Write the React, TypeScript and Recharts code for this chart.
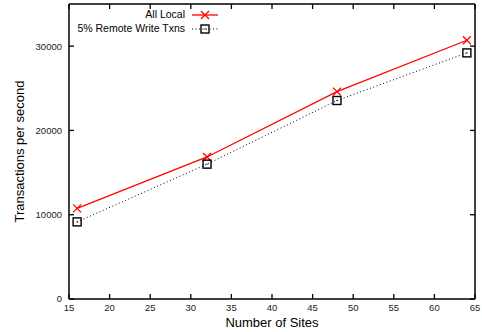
import React from 'react';
import { LineChart, Line, XAxis, YAxis, Legend } from 'recharts';

const sites = [16, 32, 48, 64];
const allLocal = [10750, 16850, 24600, 30700];
const remoteWrite = [9150, 16000, 23550, 29200];
const xTicks = [15, 20, 25, 30, 35, 40, 45, 50, 55, 60, 65];
const yTicks = [0, 10000, 20000, 30000];

const data = sites.map((s, i) => ({ sites: s, allLocal: allLocal[i], remote: remoteWrite[i] }));

const FONT = '"Liberation Sans", Arial, Helvetica, sans-serif';
const TICK_LEN = 5;
const X_MARGIN = 5;
const Y_MARGIN = 7;
const TICK_W = 1.3;

const CrossDot = (props: any) => {
  const { cx, cy } = props;
  if (cx == null || cy == null) return null;
  const r = 4;
  return (
    <g stroke="#ff0000" strokeWidth={1.3}>
      <line x1={cx - r} y1={cy - r} x2={cx + r} y2={cy + r} />
      <line x1={cx - r} y1={cy + r} x2={cx + r} y2={cy - r} />
    </g>
  );
};

const SquareDot = (props: any) => {
  const { cx, cy } = props;
  if (cx == null || cy == null) return null;
  const r = 4;
  return (
    <g>
      <rect x={cx - r} y={cy - r} width={2 * r} height={2 * r} fill="none" stroke="#000" strokeWidth={1.4} />
      <rect x={cx - 0.6} y={cy - 0.6} width={1.2} height={1.2} fill="#000" />
    </g>
  );
};

const BottomTick = (props: any) => {
  const { x, y, payload } = props;
  const axisY = y - X_MARGIN;
  return (
    <g>
      <line x1={x} y1={axisY} x2={x} y2={axisY - TICK_LEN} stroke="#000" strokeWidth={TICK_W} />
      <text x={x} y={y} dy="0.71em" textAnchor="middle" fontSize={9.5} fontFamily={FONT} fill="#222">{payload.value}</text>
    </g>
  );
};

const TopTick = (props: any) => {
  const { x, y } = props;
  return <line x1={x} y1={y} x2={x} y2={y + TICK_LEN} stroke="#000" strokeWidth={TICK_W} />;
};

const LeftTick = (props: any) => {
  const { x, y, payload } = props;
  const axisX = x + Y_MARGIN;
  return (
    <g>
      <line x1={axisX} y1={y} x2={axisX + TICK_LEN} y2={y} stroke="#000" strokeWidth={TICK_W} />
      <text x={x} y={y} dy="0.355em" textAnchor="end" fontSize={9.5} fontFamily={FONT} fill="#222">{payload.value}</text>
    </g>
  );
};

const RightTick = (props: any) => {
  const { x, y } = props;
  return <line x1={x} y1={y} x2={x - TICK_LEN} y2={y} stroke="#000" strokeWidth={TICK_W} />;
};

const LegendContent = () => (
  <svg width={160} height={36} style={{ display: 'block', overflow: 'visible' }}>
    <text x={115} y={11} textAnchor="end" fontSize={10.5} fontFamily={FONT} fill="#000" dominantBaseline="middle">All Local</text>
    <line x1={122} y1={11} x2={148} y2={11} stroke="#ff0000" strokeWidth={1.3} />
    <CrossDot cx={135} cy={11} />
    <text x={115} y={25} textAnchor="end" fontSize={10.5} fontFamily={FONT} fill="#000" dominantBaseline="middle">5% Remote Write Txns</text>
    <line x1={122} y1={25} x2={148} y2={25} stroke="#000" strokeWidth={1} strokeDasharray="1 2.5" />
    <SquareDot cx={135} cy={25} />
  </svg>
);

export default function App() {
  return (
    <div style={{ position: 'relative', width: 482, height: 332 }}>
      <style>{`body{margin:0}`}</style>
      <LineChart width={482} height={332} data={data} margin={{ top: 3, right: 6, bottom: 0, left: 0 }}>
        <XAxis
          dataKey="sites"
          type="number"
          domain={[15, 65]}
          ticks={xTicks}
          interval={0}
          height={33}
          tickSize={0}
          tickMargin={X_MARGIN}
          axisLine={{ stroke: '#000', strokeWidth: 1.5 }}
          tickLine={false}
          tick={<BottomTick />}
          label={{ value: 'Number of Sites', position: 'center', dy: 7, fontSize: 13, fontFamily: FONT, fill: '#000' }}
        />
        <XAxis
          xAxisId="top"
          orientation="top"
          dataKey="sites"
          type="number"
          domain={[15, 65]}
          ticks={xTicks}
          interval={0}
          height={1}
          tickSize={0}
          tickMargin={0}
          tick={<TopTick />}
          axisLine={{ stroke: '#000', strokeWidth: 1.5 }}
          tickLine={false}
        />
        <YAxis
          type="number"
          domain={[0, 35000]}
          ticks={yTicks}
          interval={0}
          width={69}
          tickSize={0}
          tickMargin={Y_MARGIN}
          axisLine={{ stroke: '#000', strokeWidth: 1.5 }}
          tickLine={false}
          tick={<LeftTick />}
          label={{ value: 'Transactions per second', angle: -90, position: 'center', dx: -15, fontSize: 13, fontFamily: FONT, fill: '#000' }}
        />
        <YAxis
          yAxisId="right"
          orientation="right"
          type="number"
          domain={[0, 35000]}
          ticks={yTicks}
          interval={0}
          width={1}
          tickSize={0}
          tickMargin={0}
          tick={<RightTick />}
          axisLine={{ stroke: '#000', strokeWidth: 1.5 }}
          tickLine={false}
        />
        <Legend
          layout="vertical"
          align="center"
          verticalAlign="middle"
          content={<LegendContent />}
          wrapperStyle={{ top: 4, left: 70, width: 160, height: 36 }}
        />
        <Line
          dataKey="allLocal"
          name="All Local"
          stroke="#ff0000"
          strokeWidth={1.3}
          dot={<CrossDot />}
          activeDot={false}
          isAnimationActive={false}
        />
        <Line
          dataKey="remote"
          name="5% Remote Write Txns"
          xAxisId="top"
          yAxisId="right"
          stroke="#000"
          strokeWidth={1}
          strokeDasharray="1 2.5"
          dot={<SquareDot />}
          activeDot={false}
          isAnimationActive={false}
        />
      </LineChart>
    </div>
  );
}
